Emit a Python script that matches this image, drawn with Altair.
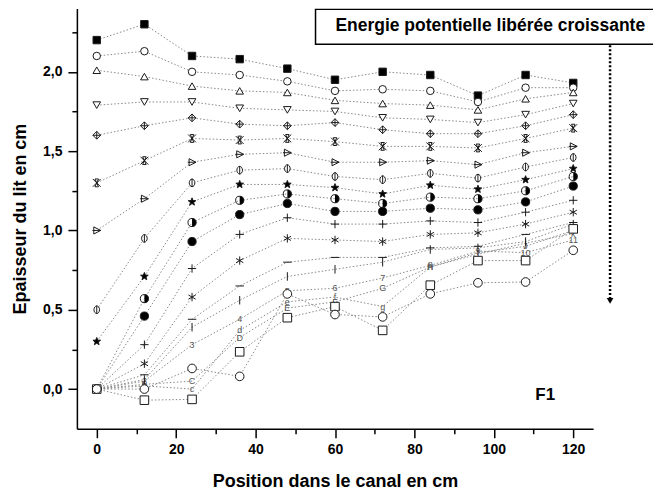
import math
import altair as alt
import pandas as pd

# ---------------- data ----------------
positions = [0, 12, 24, 36, 48, 60, 72, 84, 96, 108, 120]

carre_plein = [2.20, 2.30, 2.10, 2.08, 2.02, 1.95, 2.00, 1.98, 1.85, 1.98, 1.93]
cercle_haut = [2.10, 2.13, 2.00, 1.98, 1.94, 1.88, 1.89, 1.88, 1.81, 1.90, 1.90]
triangle_haut = [2.01, 1.97, 1.91, 1.88, 1.87, 1.82, 1.80, 1.79, 1.76, 1.83, 1.87]
triangle_bas = [1.79, 1.81, 1.81, 1.77, 1.76, 1.75, 1.71, 1.70, 1.68, 1.73, 1.80]
losange_plus = [1.60, 1.66, 1.71, 1.67, 1.66, 1.68, 1.635, 1.61, 1.61, 1.66, 1.73]
sablier = [1.30, 1.44, 1.58, 1.57, 1.58, 1.56, 1.53, 1.53, 1.52, 1.58, 1.645]
triangle_droite = [1.00, 1.20, 1.43, 1.48, 1.49, 1.43, 1.43, 1.44, 1.415, 1.49, 1.53]
cercle_barre = [0.50, 0.95, 1.30, 1.38, 1.39, 1.34, 1.32, 1.36, 1.33, 1.40, 1.46]
etoile = [0.30, 0.71, 1.18, 1.29, 1.29, 1.27, 1.23, 1.285, 1.26, 1.32, 1.39]
demi_cercle = [0.00, 0.57, 1.05, 1.19, 1.23, 1.20, 1.17, 1.21, 1.20, 1.25, 1.34]
boule = [0.00, 0.46, 0.93, 1.10, 1.17, 1.12, 1.12, 1.14, 1.13, 1.18, 1.28]
plus = [0.00, 0.28, 0.76, 0.975, 1.08, 1.04, 1.04, 1.06, 1.05, 1.115, 1.19]
asterisque = [0.00, 0.16, 0.58, 0.81, 0.95, 0.94, 0.93, 0.975, 0.985, 1.04, 1.115]
tiret = [0.00, 0.09, 0.44, 0.65, 0.80, 0.83, 0.83, 0.89, 0.90, 0.975, 1.05]
barre = [0.00, 0.06, 0.39, 0.56, 0.71, 0.755, 0.80, 0.88, 0.89, 0.93, 1.04]
chiffres = [0.00, 0.05, 0.28, 0.44, 0.62, 0.635, 0.70, 0.78, 0.87, 0.86, 0.94]
majuscules = [0.00, 0.03, 0.05, 0.325, 0.51, 0.55, 0.635, 0.77, 0.86, 0.90, 1.00]
minuscules = [0.00, 0.02, 0.00, 0.37, 0.55, 0.58, 0.52, 0.77, 0.85, 0.92, 0.98]
carre_vide = [0.00, -0.07, -0.065, 0.235, 0.45, 0.52, 0.37, 0.655, 0.81, 0.81, 1.01]
cercle_bas = [0.00, 0.00, 0.13, 0.08, 0.60, 0.47, 0.455, 0.60, 0.67, 0.675, 0.875]

labels_chiffres = [str(i + 1) for i in range(len(positions))]
labels_maj = [chr(ord("A") + i) for i in range(len(positions))]
labels_min = [chr(ord("a") + i) for i in range(len(positions))]

# ---------------- marker styles ----------------
def star_path(n=5, r_out=1.0, r_in=0.42):
    pts = []
    for k in range(2 * n):
        r = r_out if k % 2 == 0 else r_in
        a = -math.pi / 2 + k * math.pi / n
        pts.append(f"{r * math.cos(a):.3f},{r * math.sin(a):.3f}")
    return "M" + "L".join(pts) + "Z"

CIRCLE = "circle"
point_series = [
    # name, values, shape, fill, size
    ("carre_plein", carre_plein, "square", "#000000", 55),
    ("cercle_haut", cercle_haut, CIRCLE, "white", 75),
    ("triangle_haut", triangle_haut, "triangle-up", "white", 80),
    ("triangle_bas", triangle_bas, "triangle-down", "white", 80),
    ("losange_plus", losange_plus, "M0,-1L1,0L0,1L-1,0ZM0,-1L0,1M-1,0L1,0", "white", 85),
    ("sablier", sablier, "M-1,-1L1,1M1,-1L-1,1M-0.45,-1L0.45,-1L-0.45,1L0.45,1Z", "transparent", 85),
    ("triangle_droite", triangle_droite, "M-0.75,-0.9L1,0L-0.75,0.9ZM-1.1,0L1,0", "white", 85),
    ("cercle_barre", cercle_barre, "M-0.7,0A0.7,0.95 0 1,0 0.7,0A0.7,0.95 0 1,0 -0.7,0M0,-1.05L0,1.05", "white", 85),
    ("etoile", etoile, star_path(), "#000000", 95),
    ("demi_cercle", demi_cercle, CIRCLE, "transparent", 75),
    ("boule", boule, CIRCLE, "#000000", 75),
    ("plus", plus, "M-1,0L1,0M0,-1L0,1", "transparent", 75),
    ("asterisque", asterisque, "M0,-1L0,1M-0.87,-0.5L0.87,0.5M-0.87,0.5L0.87,-0.5", "transparent", 95),
    ("tiret", tiret, "M-1,0L1,0", "transparent", 65),
    ("barre", barre, "M0,-1L0,1", "transparent", 75),
    ("carre_vide", carre_vide, "square", "white", 60),
    ("cercle_bas", cercle_bas, CIRCLE, "white", 80),
]
text_series = [
    ("chiffres", chiffres, labels_chiffres),
    ("majuscules", majuscules, labels_maj),
    ("minuscules", minuscules, labels_min),
]

rows = []
order = 0
for name, vals, *_ in point_series:
    for xv, yv in zip(positions, vals):
        rows.append({"serie": name, "x": xv, "y": yv, "o": order, "t": ""})
        order += 1
for name, vals, labs in text_series:
    for xv, yv, lb in zip(positions, vals, labs):
        rows.append({"serie": name, "x": xv, "y": yv, "o": order, "t": lb})
        order += 1
df = pd.DataFrame(rows)

pt_names = [p[0] for p in point_series]
txt_names = [t[0] for t in text_series]

FONT = "Liberation Sans"
xs = alt.Scale(domain=[-5, 125], nice=False, zero=False)
ys = alt.Scale(domain=[-0.25, 2.4], nice=False, zero=False)

x_axis = alt.Axis(
    values=list(range(0, 121, 10)),
    labelExpr="datum.value % 20 === 0 ? datum.label : ''",
    tickSize={"condition": {"test": "datum.value % 20 === 0", "value": 9}, "value": 5},
    title="Position dans le canal en cm",
    titlePadding=16,
    labelPadding=5,
)
y_axis = alt.Axis(
    values=[i * 0.25 for i in range(0, 10)],
    labelExpr="datum.value % 0.5 === 0 ? replace(format(datum.value, '.1f'), '.', ',') : ''",
    tickSize={"condition": {"test": "datum.value % 0.5 === 0", "value": 9}, "value": 5},
    title="Epaisseur du lit en cm",
    titlePadding=13,
    labelPadding=6,
)

base = alt.Chart(df)

lines = base.mark_line(
    stroke="#8a8a8a", strokeWidth=1, strokeDash=[1.5, 2]
).encode(
    x=alt.X("x:Q", scale=xs, axis=x_axis),
    y=alt.Y("y:Q", scale=ys, axis=y_axis),
    detail="serie:N",
    order="x:Q",
)

texts = base.transform_filter(
    alt.FieldOneOfPredicate(field="serie", oneOf=txt_names)
).mark_text(font=FONT, fontSize=9, fill="#555555").encode(
    x=alt.X("x:Q", scale=xs), y=alt.Y("y:Q", scale=ys), text="t:N"
)

half = base.transform_filter(
    alt.FieldEqualPredicate(field="serie", equal="demi_cercle")
).mark_point(
    shape="M0,-1A1,1 0 0,1 0,1Z", filled=True, fill="#000000", opacity=1, size=75, strokeWidth=0
).encode(x=alt.X("x:Q", scale=xs), y=alt.Y("y:Q", scale=ys))

points = base.transform_filter(
    alt.FieldOneOfPredicate(field="serie", oneOf=pt_names)
).mark_point(filled=True, stroke="#1a1a1a", strokeWidth=1, opacity=1).encode(
    x=alt.X("x:Q", scale=xs),
    y=alt.Y("y:Q", scale=ys),
    shape=alt.Shape("serie:N", scale=alt.Scale(domain=pt_names, range=[p[2] for p in point_series]), legend=None),
    fill=alt.Fill("serie:N", scale=alt.Scale(domain=pt_names, range=[p[3] for p in point_series]), legend=None),
    size=alt.Size("serie:N", scale=alt.Scale(domain=pt_names, range=[p[4] for p in point_series]), legend=None),
    order="o:Q",
)

# annotations (pixel placement)
box = alt.Chart(df).mark_rect(fill="white", stroke="black", strokeWidth=1.5).encode(
    x=alt.value(239), x2=alt.value(620), y=alt.value(1), y2=alt.value(36)
).transform_filter("datum.o === 0")
box_text = alt.Chart(df).mark_text(
    text="Energie potentielle libérée croissante", font=FONT, fontSize=17.5, fontWeight="bold",
    color="black", align="center", baseline="middle"
).encode(x=alt.value(414), y=alt.value(18)).transform_filter("datum.o === 0")
arrow = alt.Chart(df).mark_rule(stroke="black", strokeWidth=2.5, strokeDash=[2, 2]).encode(
    x=alt.value(534), y=alt.value(37), y2=alt.value(290)
).transform_filter("datum.o === 0")
arrow_head = alt.Chart(df).mark_point(
    shape="triangle-down", filled=True, fill="black", opacity=1, size=45
).encode(x=alt.value(534), y=alt.value(293)).transform_filter("datum.o === 0")
f1 = alt.Chart(df).mark_text(
    text="F1", font=FONT, fontSize=17, fontWeight="bold", color="black", align="center", baseline="middle"
).encode(x=alt.value(469), y=alt.value(387)).transform_filter("datum.o === 0")

chart = alt.layer(lines, texts, half, points, box, box_text, arrow, arrow_head, f1).properties(
    width=517,
    height=421,
    autosize=alt.AutoSizeParams(type="none"),
    padding={"left": 69, "top": 0, "right": 60, "bottom": 66},
).configure_view(stroke=None).configure_axis(
    domainColor="black", domainWidth=1.5, tickColor="black", tickWidth=1.5,
    labelFont=FONT, labelFontWeight="bold", labelFontSize=14, labelColor="black",
    titleFont=FONT, titleFontWeight="bold", titleFontSize=18, titleColor="black",
    grid=False,
)

chart.save("out.html", embed_options={"renderer": "svg", "actions": False})
